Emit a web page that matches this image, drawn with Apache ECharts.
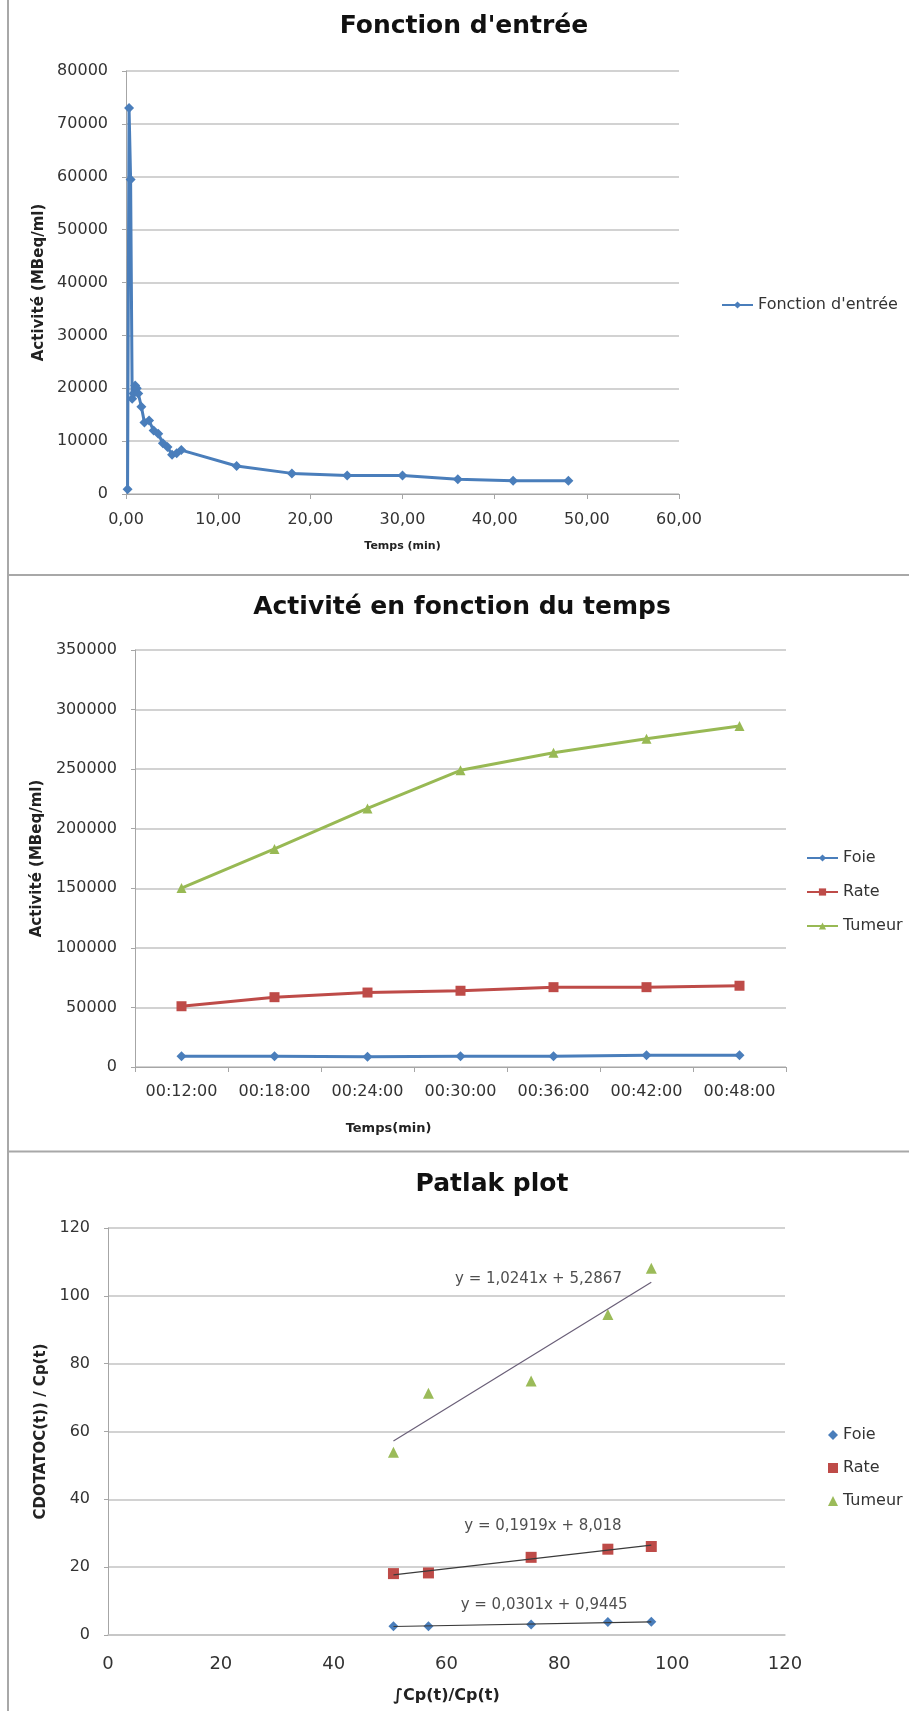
<!DOCTYPE html>
<html>
<head>
<meta charset="utf-8">
<script src="https://cdn.jsdelivr.net/npm/echarts@6/dist/echarts.min.js"></script>
<style>
  html, body { margin: 0; padding: 0; background: #fff; }
  #charts { width: 909px; height: 1711px; }
</style>
</head>
<body>
<div id="charts"></div>
<script>
// chart 1 : fonction d'entrée
const entreeTemps = [0.17, 0.33, 0.5, 0.67, 0.83, 1.0, 1.17, 1.33, 1.67, 2.0, 2.5, 3.0, 3.5, 4.0, 4.5, 5.0, 5.5, 6.0, 12, 18, 24, 30, 36, 42, 48];
const entreeActivite = [900, 73000, 59500, 18000, 19000, 20500, 20000, 19000, 16500, 13500, 13900, 12000, 11400, 9600, 8900, 7400, 7700, 8300, 5300, 3900, 3500, 3500, 2800, 2500, 2500];

// chart 2 : activité en fonction du temps
const heures = ['00:12:00', '00:18:00', '00:24:00', '00:30:00', '00:36:00', '00:42:00', '00:48:00'];
const foie = [9000, 9000, 8500, 9000, 9000, 9900, 9900];
const rate = [51000, 58600, 62500, 64000, 67000, 67000, 68200];
const tumeur = [150200, 183000, 217000, 249000, 263800, 275500, 286300];

// chart 3 : patlak plot
const patlakX = [50.6, 56.8, 75.0, 88.6, 96.3];
const patlakFoie = [2.6, 2.6, 3.1, 3.8, 3.9];
const patlakRate = [18.1, 18.3, 22.9, 25.3, 26.1];
const patlakTumeur = [53.9, 71.3, 74.9, 94.5, 108.1];
// trend line ends
const trendX = [50.6, 96.3];
const trendFoie = [2.5, 3.85];
const trendRate = [17.7, 26.5];
const trendTumeur = [57.2, 104.0];
const equations = ['y = 0,0301x + 0,9445', 'y = 0,1919x + 8,018', 'y = 1,0241x + 5,2867'];
const equationPos = [[77.3, 8.9], [77.1, 32.2], [76.3, 105]];

const FONT = 'DejaVu Sans';
const BLUE = '#4a7ebb';
const RED = '#be4b48';
const GREEN = '#98b954';
const GRID = '#c3c3c3';
const AXIS = '#a6a6a6';
const TXT = '#333';

const zip = (xs, ys) => xs.map((x, i) => [x, ys[i]]);

function valueY(gridIndex, max, interval, name, gap) {
  return {
    gridIndex: gridIndex,
    type: 'value',
    min: 0,
    max: max,
    interval: interval,
    name: name,
    nameLocation: 'middle',
    nameGap: gap,
    nameTextStyle: { fontFamily: FONT, fontWeight: 'bold', fontSize: 15, color: '#222' },
    axisLine: { show: true, lineStyle: { color: AXIS } },
    axisTick: { show: true, length: 4, lineStyle: { color: AXIS } },
    axisLabel: { fontFamily: FONT, fontSize: 16, color: TXT, margin: 18, formatter: v => String(v) },
    splitLine: { show: true, lineStyle: { color: GRID, width: 1.5 } }
  };
}

const chart = echarts.init(document.getElementById('charts'));

const option = {
  backgroundColor: '#fff',
  animation: false,
  title: [
    { text: "Fonction d'entrée", left: 464, top: 14, textAlign: 'center', padding: 0,
      textStyle: { fontFamily: FONT, fontSize: 25, fontWeight: 'bold', color: '#111' } },
    { text: 'Activité en fonction du temps', left: 462, top: 595, textAlign: 'center', padding: 0,
      textStyle: { fontFamily: FONT, fontSize: 25, fontWeight: 'bold', color: '#111' } },
    { text: 'Patlak plot', left: 492, top: 1172, textAlign: 'center', padding: 0,
      textStyle: { fontFamily: FONT, fontSize: 25, fontWeight: 'bold', color: '#111' } }
  ],
  legend: [
    { orient: 'vertical', left: 721, top: 297, itemWidth: 31, itemHeight: 9, padding: 0,
      data: ["Fonction d'entrée"],
      textStyle: { fontFamily: FONT, fontSize: 16, color: TXT } },
    { orient: 'vertical', left: 806, top: 849, itemWidth: 31, itemHeight: 9, itemGap: 16, padding: 0,
      data: ['Foie', 'Rate', 'Tumeur'],
      textStyle: { fontFamily: FONT, fontSize: 16, color: TXT, lineHeight: 18 } },
    { orient: 'vertical', left: 828, top: 1426, itemWidth: 10, itemHeight: 10, itemGap: 15, padding: 0,
      data: ['p-Foie', 'p-Rate', 'p-Tumeur'],
      formatter: name => name.replace('p-', ''),
      textStyle: { fontFamily: FONT, fontSize: 16, color: TXT, lineHeight: 18 } }
  ],
  grid: [
    { left: 126, top: 71, width: 553, height: 423 },
    { left: 135, top: 650, width: 651, height: 417 },
    { left: 108, top: 1228, width: 677, height: 407 }
  ],
  xAxis: [
    { gridIndex: 0, type: 'value', min: 0, max: 60, interval: 10,
      name: 'Temps (min)', nameLocation: 'middle', nameGap: 47,
      nameTextStyle: { fontFamily: FONT, fontWeight: 'bold', fontSize: 11, color: '#222' },
      axisLine: { show: true, lineStyle: { color: AXIS } },
      axisTick: { show: true, length: 5, lineStyle: { color: AXIS } },
      axisLabel: { fontFamily: FONT, fontSize: 16, color: TXT, margin: 18,
        formatter: v => v.toFixed(2).replace('.', ',') },
      splitLine: { show: false } },
    { gridIndex: 1, type: 'category', data: heures, boundaryGap: true,
      name: 'Temps(min)', nameLocation: 'middle', nameGap: 55,
      nameTextStyle: { fontFamily: FONT, fontWeight: 'bold', fontSize: 13, color: '#222',
        padding: [0, 144, 0, 0] },
      axisLine: { show: true, lineStyle: { color: AXIS } },
      axisTick: { show: true, length: 5, lineStyle: { color: AXIS } },
      axisLabel: { fontFamily: FONT, fontSize: 16, color: TXT, margin: 17, interval: 0 } },
    { gridIndex: 2, type: 'value', min: 0, max: 120, interval: 20,
      name: '∫Cp(t)/Cp(t)', nameLocation: 'middle', nameGap: 53,
      nameTextStyle: { fontFamily: FONT, fontWeight: 'bold', fontSize: 16, color: '#222' },
      axisLine: { show: true, lineStyle: { color: GRID, width: 1.5 } },
      axisTick: { show: false },
      axisLabel: { fontFamily: FONT, fontSize: 18, color: TXT, margin: 20 },
      splitLine: { show: false } }
  ],
  yAxis: [
    valueY(0, 80000, 10000, 'Activité (MBeq/ml)', 78),
    valueY(1, 350000, 50000, 'Activité (MBeq/ml)', 86),
    valueY(2, 120, 20, 'CDOTATOC(t)) / Cp(t)', 56)
  ],
  series: [
    { name: "Fonction d'entrée", type: 'line', xAxisIndex: 0, yAxisIndex: 0,
      data: zip(entreeTemps, entreeActivite),
      symbol: 'diamond', symbolSize: 10, color: BLUE, lineStyle: { width: 3 } },

    { name: 'Foie', type: 'line', xAxisIndex: 1, yAxisIndex: 1, data: foie,
      symbol: 'diamond', symbolSize: 10, color: BLUE, lineStyle: { width: 3 } },
    { name: 'Rate', type: 'line', xAxisIndex: 1, yAxisIndex: 1, data: rate,
      symbol: 'rect', symbolSize: 10, color: RED, lineStyle: { width: 3 } },
    { name: 'Tumeur', type: 'line', xAxisIndex: 1, yAxisIndex: 1, data: tumeur,
      symbol: 'triangle', symbolSize: 10, color: GREEN, lineStyle: { width: 3 } },

    { name: 'p-Foie', type: 'scatter', xAxisIndex: 2, yAxisIndex: 2, data: zip(patlakX, patlakFoie),
      symbol: 'diamond', symbolSize: 10, color: BLUE, itemStyle: { opacity: 1 } },
    { name: 'p-Rate', type: 'scatter', xAxisIndex: 2, yAxisIndex: 2, data: zip(patlakX, patlakRate),
      symbol: 'rect', symbolSize: 11, color: RED, itemStyle: { opacity: 1 } },
    { name: 'p-Tumeur', type: 'scatter', xAxisIndex: 2, yAxisIndex: 2, data: zip(patlakX, patlakTumeur),
      symbol: 'triangle', symbolSize: 11, color: '#9bbb59', itemStyle: { opacity: 1 } },

    { name: 'trend-foie', type: 'line', xAxisIndex: 2, yAxisIndex: 2, data: zip(trendX, trendFoie),
      symbol: 'none', color: '#3a3a3a', lineStyle: { width: 1.2 }, z: 3 },
    { name: 'trend-rate', type: 'line', xAxisIndex: 2, yAxisIndex: 2, data: zip(trendX, trendRate),
      symbol: 'none', color: '#3a3a3a', lineStyle: { width: 1.2 }, z: 3 },
    { name: 'trend-tumeur', type: 'line', xAxisIndex: 2, yAxisIndex: 2, data: zip(trendX, trendTumeur),
      symbol: 'none', color: '#6a5f78', lineStyle: { width: 1.2 }, z: 3 },

    { name: 'equations', type: 'scatter', xAxisIndex: 2, yAxisIndex: 2, symbolSize: 0, silent: true,
      data: equationPos.map((p, i) => [p[0], p[1], equations[i]]),
      label: { show: true, position: 'inside', formatter: p => p.data[2],
        fontFamily: FONT, fontSize: 15, color: '#222' } }
  ],
  graphic: [
    { type: 'line', shape: { x1: 8, y1: 0, x2: 8, y2: 1711 }, style: { stroke: '#a8a8a8', lineWidth: 2 } },
    { type: 'line', shape: { x1: 8, y1: 575, x2: 909, y2: 575 }, style: { stroke: '#a8a8a8', lineWidth: 2 } },
    { type: 'line', shape: { x1: 8, y1: 1151.5, x2: 909, y2: 1151.5 }, style: { stroke: '#a8a8a8', lineWidth: 2 } }
  ]
};

chart.setOption(option);
</script>
</body>
</html>
